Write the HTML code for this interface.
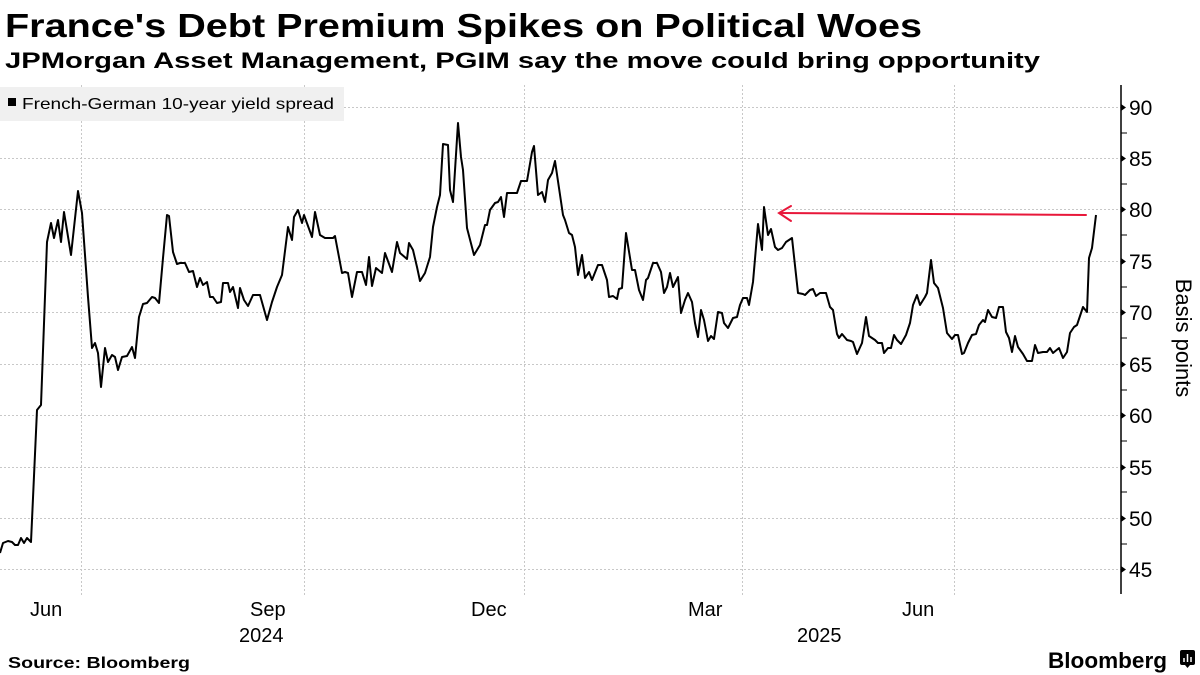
<!DOCTYPE html>
<html><head><meta charset="utf-8"><style>
html,body{margin:0;padding:0;background:#fff;}
svg{display:block;font-family:"Liberation Sans",sans-serif;}
</style></head><body>
<svg width="1200" height="675" viewBox="0 0 1200 675" xmlns="http://www.w3.org/2000/svg">
<rect width="1200" height="675" fill="#fff"/>
<text x="5" y="37" font-size="33" font-weight="bold" textLength="917" lengthAdjust="spacingAndGlyphs">France's Debt Premium Spikes on Political Woes</text>
<text x="5" y="68" font-size="22" font-weight="bold" textLength="1035" lengthAdjust="spacingAndGlyphs">JPMorgan Asset Management, PGIM say the move could bring opportunity</text>
<g stroke="#c8c8c8" stroke-width="1" stroke-dasharray="2,2">
<line x1="0" x2="1121" y1="107.5" y2="107.5"/><line x1="0" x2="1121" y1="158.5" y2="158.5"/>
<line x1="0" x2="1121" y1="209.5" y2="209.5"/><line x1="0" x2="1121" y1="261.5" y2="261.5"/>
<line x1="0" x2="1121" y1="312.5" y2="312.5"/><line x1="0" x2="1121" y1="364.5" y2="364.5"/>
<line x1="0" x2="1121" y1="415.5" y2="415.5"/><line x1="0" x2="1121" y1="467.5" y2="467.5"/>
<line x1="0" x2="1121" y1="518.5" y2="518.5"/><line x1="0" x2="1121" y1="569.5" y2="569.5"/>
<line x1="81.5" x2="81.5" y1="85" y2="595"/><line x1="304.5" x2="304.5" y1="85" y2="595"/>
<line x1="524.5" x2="524.5" y1="85" y2="595"/><line x1="742.5" x2="742.5" y1="85" y2="595"/>
<line x1="954.5" x2="954.5" y1="85" y2="595"/>
</g>
<rect x="0" y="87" width="344" height="34" fill="#f0f0f0"/>
<rect x="8" y="98" width="8" height="8" fill="#000"/>
<text x="22" y="109" font-size="16" textLength="312" lengthAdjust="spacingAndGlyphs">French-German 10-year yield spread</text>
<line x1="1121" x2="1121" y1="85" y2="594" stroke="#000" stroke-width="1.5"/>
<g fill="#000">
<path d="M1121 104l5 3.5-5 3.5z"/><path d="M1121 155l5 3.5-5 3.5z"/><path d="M1121 206l5 3.5-5 3.5z"/><path d="M1121 258l5 3.5-5 3.5z"/><path d="M1121 309l5 3.5-5 3.5z"/><path d="M1121 361l5 3.5-5 3.5z"/><path d="M1121 412l5 3.5-5 3.5z"/><path d="M1121 464l5 3.5-5 3.5z"/><path d="M1121 515l5 3.5-5 3.5z"/><path d="M1121 566l5 3.5-5 3.5z"/>
</g>
<g stroke="#000" stroke-width="1">
<line x1="1121" x2="1127" y1="133" y2="133"/><line x1="1121" x2="1127" y1="184" y2="184"/><line x1="1121" x2="1127" y1="235" y2="235"/><line x1="1121" x2="1127" y1="287" y2="287"/><line x1="1121" x2="1127" y1="338" y2="338"/><line x1="1121" x2="1127" y1="390" y2="390"/><line x1="1121" x2="1127" y1="441" y2="441"/><line x1="1121" x2="1127" y1="492" y2="492"/><line x1="1121" x2="1127" y1="544" y2="544"/>
</g>
<g font-size="21" fill="#000">
<text x="1129" y="115">90</text><text x="1129" y="166">85</text><text x="1129" y="217">80</text><text x="1129" y="269">75</text><text x="1129" y="320">70</text><text x="1129" y="372">65</text><text x="1129" y="423">60</text><text x="1129" y="475">55</text><text x="1129" y="526">50</text><text x="1129" y="577">45</text>
</g>
<text transform="translate(1176,338) rotate(90)" text-anchor="middle" font-size="22">Basis points</text>
<g font-size="20" fill="#000">
<text x="30" y="616">Jun</text><text x="250" y="616">Sep</text><text x="471" y="616">Dec</text><text x="688" y="616">Mar</text><text x="902" y="616">Jun</text>
<text x="239" y="642">2024</text><text x="797" y="642">2025</text>
</g>
<text x="8" y="668" font-size="16" font-weight="bold" textLength="182" lengthAdjust="spacingAndGlyphs">Source: Bloomberg</text>
<text x="1048" y="668" font-size="22" font-weight="bold" textLength="119" lengthAdjust="spacingAndGlyphs">Bloomberg</text>
<rect x="1180" y="650" width="15" height="15" rx="2" fill="#000"/>
<path d="M1185 665l2.5 3 2.5-3z" fill="#000"/>
<g stroke="#fff" stroke-width="1.5"><line x1="1184" x2="1184" y1="658" y2="662"/><line x1="1187.5" x2="1187.5" y1="654" y2="662"/><line x1="1191" x2="1191" y1="657" y2="662"/></g>
<polyline fill="none" stroke="#000" stroke-width="2" stroke-linejoin="round" points="0,553 3,543 8,541 12,542 15,545 18,545 21,538 24,543 27,538 31,542 37,410 41,405 47,242 51,223 54,238 58,220 61,242 64,212 71,255 78,191 82,213 88,297 92,348 95,343 98,353 101,387 105,348 108,362 112,355 115,357 118,370 122,357 127,356 132,347 135,358 139,317 143,304 147,303 152,297 155,298 159,303 163,258 167,215 169,216 173,252 177,264 180,263 185,263 189,272 193,271 197,287 200,278 203,285 207,282 210,297 213,297 217,303 221,302 223,283 228,283 230,292 233,287 238,308 240,288 244,300 248,306 253,295 260,295 267,320 272,302 277,287 282,275 288,227 292,240 294,217 298,210 302,223 304,215 312,237 315,212 320,235 325,238 333,238 335,236 342,273 345,272 348,273 352,297 357,272 362,272 366,285 369,257 372,286 376,268 382,273 385,253 392,272 397,242 400,253 407,259 409,243 413,250 417,267 420,281 425,273 430,257 433,227 437,207 440,195 443,144 448,145 450,190 453,202 458,123 461,157 463,170 467,228 474,255 480,245 485,225 487,225 490,210 495,203 498,202 501,197 504,217 507,193 517,193 521,181 527,181 532,152 534,146 538,195 542,192 545,202 548,180 552,173 555,161 563,215 565,220 569,233 572,235 575,247 578,275 582,255 585,278 589,272 592,280 598,265 602,265 607,280 609,297 613,296 617,299 619,289 622,288 626,233 632,270 635,270 639,290 643,300 646,280 648,278 653,263 657,263 661,272 664,293 667,287 670,273 673,287 678,277 681,313 685,300 688,293 692,302 695,323 698,337 701,310 704,320 708,341 711,336 714,339 718,312 722,313 724,323 728,328 733,318 737,317 740,305 743,298 747,298 749,305 753,282 758,224 762,250 764,207 768,235 771,229 775,247 778,250 782,248 786,242 792,238 798,293 803,294 805,295 810,290 813,289 816,296 820,293 826,293 830,307 833,310 837,334 839,338 842,334 847,340 851,341 853,342 857,354 862,343 866,317 869,336 875,340 878,343 882,343 884,353 888,348 891,348 894,335 897,340 901,344 906,335 910,323 913,305 917,295 920,305 925,297 927,293 931,260 934,283 938,288 943,308 947,333 952,339 955,335 958,335 962,354 964,353 968,343 972,335 976,334 979,325 983,320 985,322 988,310 992,317 996,318 999,307 1003,307 1006,332 1009,338 1012,352 1015,336 1018,347 1023,354 1027,361 1032,361 1035,345 1038,353 1043,352 1047,352 1050,348 1053,353 1059,348 1063,358 1067,352 1070,333 1074,327 1077,325 1083,307 1087,312 1089,258 1092,248 1096,215"/>
<g stroke="#e8173a" stroke-width="2" fill="none" stroke-linecap="round">
<line x1="780" y1="213" x2="1086" y2="215"/>
<polyline points="791,206 779,213 791,221"/>
</g>
</svg>
</body></html>
